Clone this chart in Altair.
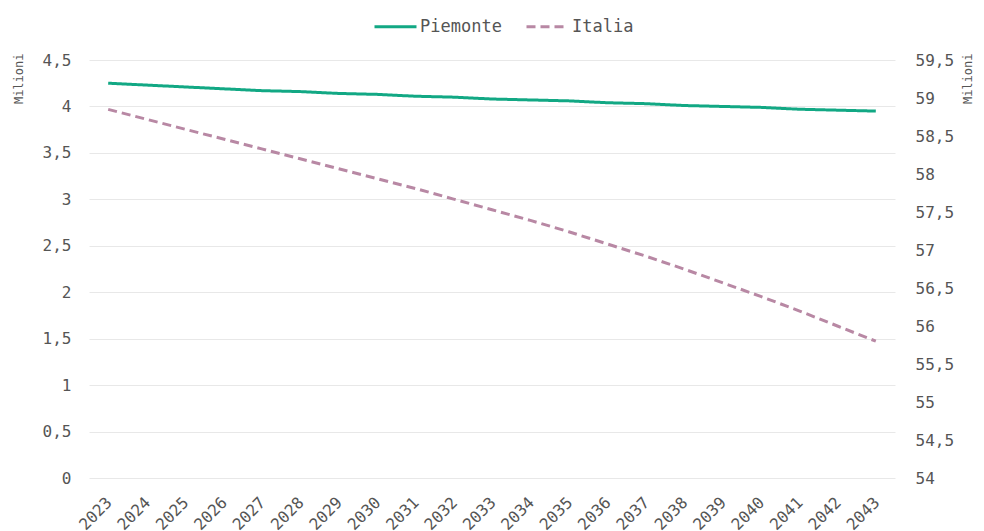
import altair as alt
import pandas as pd

years = [str(y) for y in range(2023, 2044)]
piemonte = [4.25, 4.23, 4.21, 4.19, 4.17, 4.16, 4.14, 4.13, 4.11, 4.10, 4.08,
            4.07, 4.06, 4.04, 4.03, 4.01, 4.00, 3.99, 3.97, 3.96, 3.95]
italia = [58.85, 58.72, 58.59, 58.46, 58.33, 58.20, 58.07, 57.94, 57.81, 57.67, 57.53,
          57.39, 57.24, 57.08, 56.92, 56.75, 56.57, 56.39, 56.20, 56.00, 55.80]
series = ["Piemonte", "Italia"]
colors = ["#12a884", "#b888a4"]

df_p = pd.DataFrame({"anno": years, "valore": piemonte, "serie": series[0]})
df_i = pd.DataFrame({"anno": years, "valore": italia, "serie": series[1]})

FONT = "DejaVu Sans Mono"
lbl = "replace(format(datum.value, '.1~f'), '.', ',')"

x = alt.X("anno:O", title=None,
          scale=alt.Scale(type="point", padding=0.5),
          axis=alt.Axis(labelAngle=-45, labelFontSize=16, labelColor="#555",
                        ticks=False, domain=False, grid=False, labelPadding=16,
                        labelOffset=-5))

color = alt.Color("serie:N", scale=alt.Scale(domain=series, range=colors),
                  legend=alt.Legend(title=None, orient="none", legendX=284, legendY=-56,
                                    direction="horizontal",
                                    symbolType="stroke", symbolSize=1764,
                                    symbolStrokeWidth=3, labelFontSize=17,
                                    labelColor="#555", labelFont=FONT,
                                    labelOffset=2, columnPadding=18))
dash = alt.StrokeDash("serie:N", scale=alt.Scale(domain=series, range=[[1, 0], [9, 5]]),
                      legend=None)

left = alt.Chart(df_p).mark_line(strokeWidth=3).encode(
    x=x,
    y=alt.Y("valore:Q", title="Milioni",
            scale=alt.Scale(domain=[0, 4.5], nice=False, zero=False),
            axis=alt.Axis(values=[0, 0.5, 1, 1.5, 2, 2.5, 3, 3.5, 4, 4.5],
                          labelExpr=lbl, labelFontSize=16, labelColor="#555",
                          ticks=False, domain=False, gridColor="#e8e8e8",
                          labelPadding=18, titleFontSize=12, titleFontWeight="normal",
                          titleColor="#555", titleAnchor="end", titleY=-7,
                          titlePadding=17)),
    color=color, strokeDash=dash,
)

right = alt.Chart(df_i).mark_line(strokeWidth=3).encode(
    x=x,
    y=alt.Y("valore:Q", title="Milioni",
            scale=alt.Scale(domain=[54, 59.5], nice=False, zero=False),
            axis=alt.Axis(orient="right", values=[54, 54.5, 55, 55.5, 56, 56.5, 57, 57.5, 58, 58.5, 59, 59.5],
                          labelExpr=lbl, labelFontSize=16, labelColor="#555",
                          ticks=False, domain=False, grid=False,
                          labelPadding=20, titleFontSize=12, titleFontWeight="normal",
                          titleColor="#555", titleAnchor="end", titleAngle=270,
                          titleY=-7, titlePadding=21)),
    color=color, strokeDash=dash,
)

chart = alt.layer(left, right).resolve_scale(y="independent").properties(
    width=806, height=418, padding={"left": 12, "top": 4, "right": 0, "bottom": 0}
).configure(font=FONT, view=alt.ViewConfig(stroke=None))

chart.save("out.html", embed_options={"renderer": "svg", "actions": False})
